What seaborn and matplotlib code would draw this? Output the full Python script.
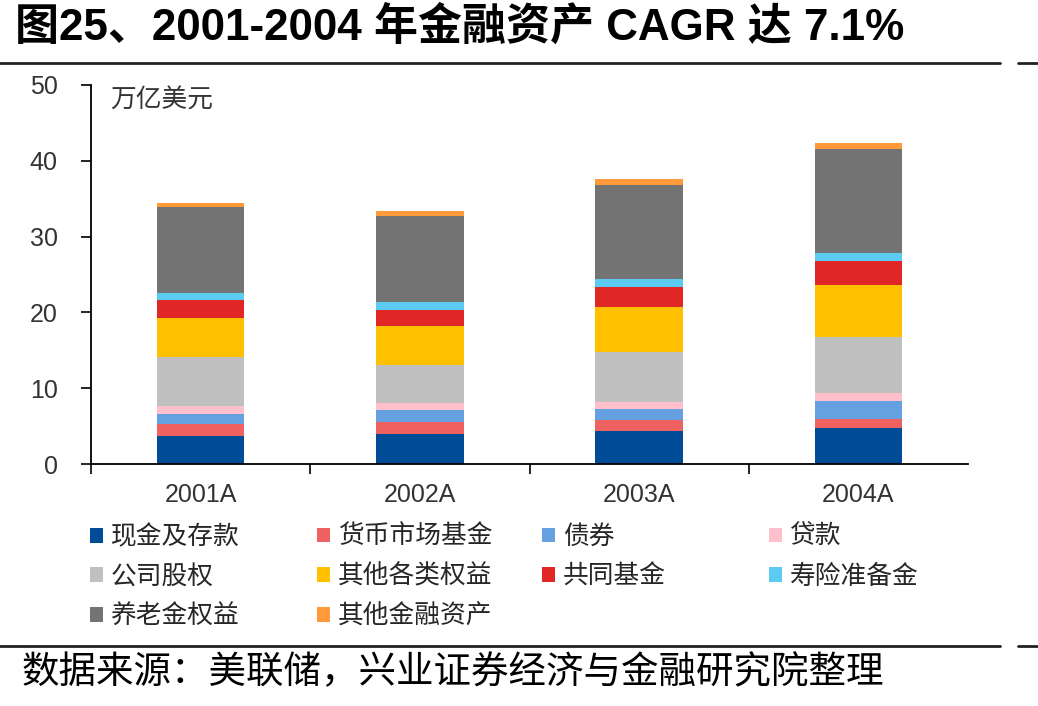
import matplotlib
matplotlib.use("Agg")
import matplotlib.pyplot as plt
from matplotlib.lines import Line2D
from matplotlib.patches import Patch
import numpy as np
import pandas as pd
import seaborn as sns

########################################
# Data (万亿美元)

years = ["2001A", "2002A", "2003A", "2004A"]

series_names = [
    "现金及存款", "货币市场基金", "债券", "贷款",
    "公司股权", "其他各类权益", "共同基金", "寿险准备金",
    "养老金权益", "其他金融资产",
]
cash = [3.73, 4.00, 4.35, 4.70]
money_market = [1.50, 1.58, 1.41, 1.23]
bonds = [1.36, 1.54, 1.49, 2.42]
loans = [1.10, 0.88, 0.97, 1.06]
corp_equity = [6.42, 5.01, 6.55, 7.39]
other_equity = [5.15, 5.19, 5.89, 6.78]
mutual_funds = [2.41, 2.07, 2.68, 3.25]
life_reserves = [0.88, 1.10, 1.06, 1.06]
pension = [11.39, 11.39, 12.40, 13.64]
other_financial = [0.53, 0.62, 0.75, 0.87]

colors = [
    "#004C97", "#F06262", "#65A1E1", "#FFC0CB",
    "#C0C0C0", "#FFC000", "#E02726", "#5BCBF2",
    "#737373", "#FF9A3A",
]

values = [cash, money_market, bonds, loans, corp_equity, other_equity,
          mutual_funds, life_reserves, pension, other_financial]

rows = []
for name, vals in zip(series_names, values):
    for y, v in zip(years, vals):
        rows.append({"year": y, "series": name, "value": v})
df = pd.DataFrame(rows)
df["series"] = pd.Categorical(df["series"], categories=series_names, ordered=True)
df = df.sort_values(["year", "series"])
df["top"] = df.groupby("year")["value"].cumsum()

########################################
# Style

sns.set_style("white")
plt.rcParams["font.family"] = ["Liberation Sans", "Noto Sans CJK SC"]
plt.rcParams["axes.unicode_minus"] = False

W, H = 1038, 706
fig = plt.figure(figsize=(W / 100, H / 100), dpi=100)
ax = fig.add_axes([91 / W, 1 - 464 / H, (968 - 91) / W, (464 - 85) / H])

# stacked bars: draw cumulative tops from the top layer downwards
for name, c in reversed(list(zip(series_names, colors))):
    sub = df[df["series"] == name]
    sns.barplot(data=sub, x="year", y="top", order=years, color=c,
                saturation=1, width=0.4, linewidth=0, errorbar=None, ax=ax)

ax.set_xlim(-0.5, 3.5)
ax.set_ylim(0, 50)
ax.set_yticks(np.arange(0, 51, 10))
ax.set_xlabel("")
ax.set_ylabel("")
ax.set_xticks([-0.5, 0.5, 1.5, 2.5], minor=True)

for s in ["top", "right"]:
    ax.spines[s].set_visible(False)
for s in ["left", "bottom"]:
    ax.spines[s].set_color("black")
    ax.spines[s].set_linewidth(1.3)

ax.tick_params(axis="y", direction="out", length=7, width=1.2, pad=17,
               labelsize=18, labelcolor="#333333", color="black", left=True)
ax.tick_params(axis="x", which="major", length=0, pad=14,
               labelsize=18, labelcolor="#333333")
ax.tick_params(axis="x", which="minor", direction="out", length=7,
               width=1.2, color="black", bottom=True)

ax.text(0.022, 0.96, "万亿美元", transform=ax.transAxes, fontsize=18.5,
        color="#333333", va="center", ha="left")

########################################
# Legend: four columns, row-major order

col_x = [90, 317, 542, 769]
for j, x in enumerate(col_x):
    idx = list(range(j, len(series_names), 4))
    handles = [Patch(facecolor=colors[i], edgecolor="none", label=series_names[i])
               for i in idx]
    fig.legend(handles=handles, loc="upper left",
               bbox_to_anchor=(x / W, 1 - 525 / H), frameon=False,
               fontsize=18.5, handlelength=0.5, handleheight=0.5,
               handletextpad=0.3, labelspacing=0.6, borderpad=0,
               borderaxespad=0)

########################################
# Title, rules and source

fig.text(15 / W, 1 - 28 / H, "图25、2001-2004 年金融资产 CAGR 达 7.1%",
         fontsize=31.7, fontweight="bold", ha="left", va="center", color="black")

for y in [63, 646]:
    fig.add_artist(Line2D([0, 1000 / W], [1 - y / H] * 2,
                          transform=fig.transFigure, color="#222222", lw=2))
    fig.add_artist(Line2D([1018 / W, 1], [1 - y / H] * 2,
                          transform=fig.transFigure, color="#222222", lw=2))

fig.text(22 / W, 1 - 673 / H, "数据来源：美联储，兴业证券经济与金融研究院整理",
         fontsize=27, ha="left", va="center", color="black")

fig.savefig("out.png", dpi=100)
